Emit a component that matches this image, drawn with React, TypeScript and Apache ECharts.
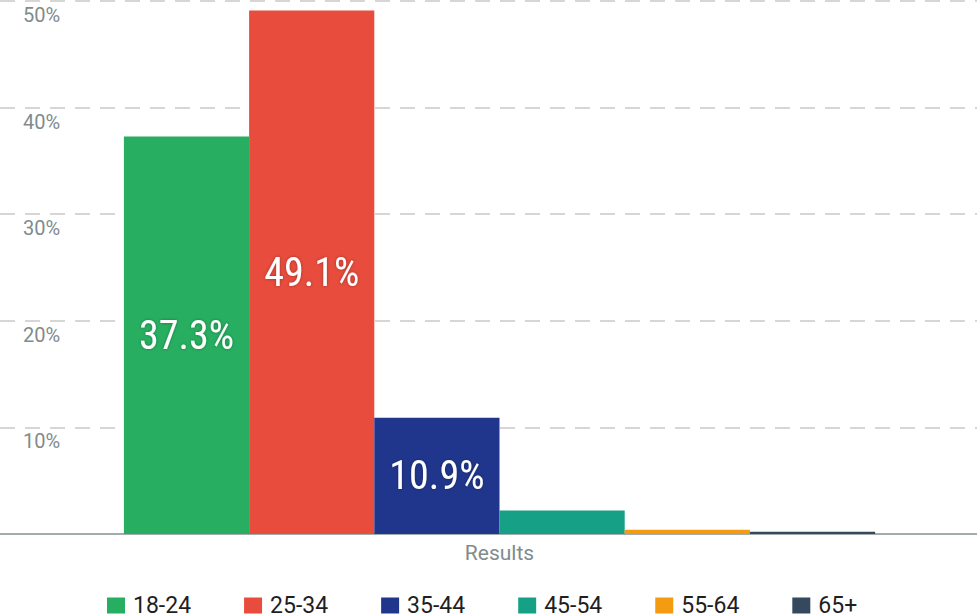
import React, { useEffect, useRef } from "react";
import * as echarts from "echarts";

const categories = ["Results"];
const seriesNames = ["18-24", "25-34", "35-44", "45-54", "55-64", "65+"];
const seriesValues = [37.3, 49.1, 10.9, 2.2, 0.4, 0.2];
const seriesColors = ["#27ae60", "#e74c3c", "#20368c", "#16a085", "#f39c12", "#34495e"];
const yTicks = [0, 10, 20, 30, 40, 50];

const labelFont = '"Liberation Sans Narrow", "Roboto Condensed", "DejaVu Sans Condensed", sans-serif';

export default function App() {
  const ref = useRef<HTMLDivElement>(null);
  useEffect(() => {
    if (!ref.current) return;
    const chart = echarts.init(ref.current, undefined, { renderer: "svg" });
    const yMax = yTicks[yTicks.length - 1];
    const option: any = {
      animation: false,
      grid: [
        { left: 0, right: 0, top: 1, bottom: 81, containLabel: false },
        { left: 22, right: 0, top: 1, bottom: 81, containLabel: false },
      ],
      legend: {
        data: seriesNames,
        left: 107,
        top: 594,
        padding: 0,
        itemWidth: 18,
        itemHeight: 16,
        itemGap: 53,
        icon: "rect",
        textStyle: {
          fontFamily: "Roboto, sans-serif",
          fontSize: 23,
          color: "#1f1f1f",
          padding: [0, 0, 0, 3],
        },
      },
      xAxis: [
        {
          type: "category",
          gridIndex: 0,
          data: categories,
          axisLine: { show: true, lineStyle: { color: "#a3abab", width: 2 } },
          axisTick: { show: false },
          axisLabel: { show: false },
          splitLine: { show: false },
        },
        {
          type: "category",
          gridIndex: 1,
          data: categories,
          axisLine: { show: false },
          axisTick: { show: false },
          axisLabel: {
            show: true,
            fontFamily: "Roboto, sans-serif",
            fontSize: 21,
            color: "#7f8c8d",
            margin: 8,
          },
        },
      ],
      yAxis: [
        {
          type: "value",
          gridIndex: 0,
          min: 0,
          max: yMax,
          interval: 10,
          axisLine: { show: false },
          axisTick: { show: false },
          splitLine: { show: true, lineStyle: { color: "#d6d6d6", width: 2, type: [15, 10] } },
          axisLabel: {
            show: true,
            inside: true,
            margin: 23,
            showMinLabel: false,
            verticalAlign: "top",
            padding: [4, 0, 0, 0],
            fontFamily: "Roboto, sans-serif",
            fontSize: 20,
            color: "#7f8c8d",
            formatter: (v: number) => `${v}%`,
          },
        },
        {
          type: "value",
          gridIndex: 1,
          min: 0,
          max: yMax,
          interval: 10,
          show: false,
          splitLine: { show: false },
        },
      ],
      series: seriesNames.map((name, i) => ({
        name,
        type: "bar",
        xAxisIndex: 1,
        yAxisIndex: 1,
        barWidth: 125.2,
        barGap: "0%",
        itemStyle: { color: seriesColors[i] },
        label: {
          show: seriesValues[i] >= 5,
          position: "inside",
          formatter: (p: any) => `${p.value}%`,
          color: "#ffffff",
          fontFamily: labelFont,
          fontSize: 40,
          textShadowColor: "rgba(0,0,0,0.35)",
          textShadowBlur: 3,
        },
        data: [seriesValues[i]],
      })),
    };
    chart.setOption(option);
    return () => chart.dispose();
  }, []);
  return (
    <div
      ref={ref}
      style={{ position: "fixed", left: 0, top: 0, width: 977, height: 615, background: "#ffffff" }}
    />
  );
}
